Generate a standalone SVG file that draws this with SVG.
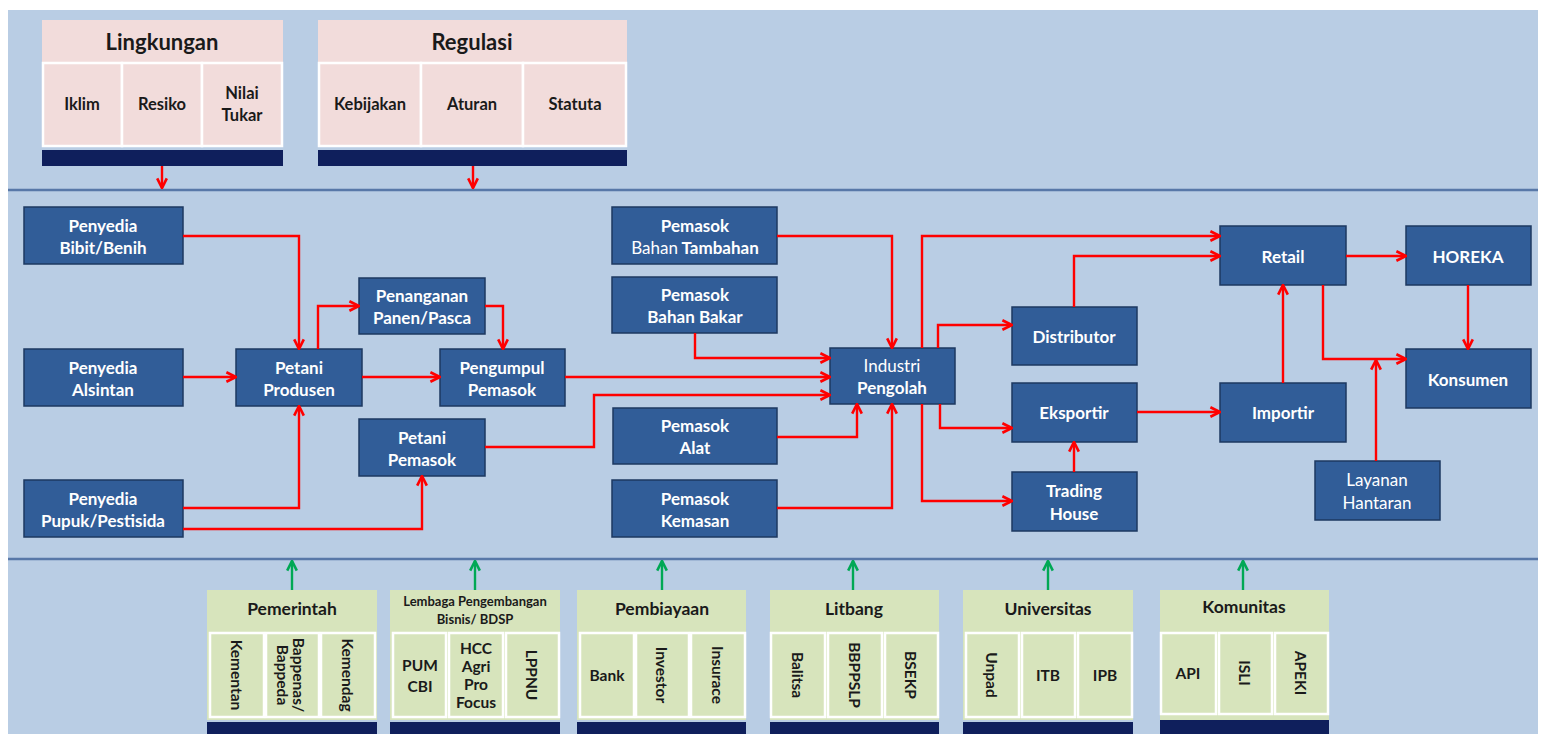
<svg xmlns="http://www.w3.org/2000/svg" width="1542" height="734" viewBox="0 0 1542 734">
<style>
.bg{fill:#b9cde4}
.sep{stroke:#5878a8;stroke-width:2.5}
.n{fill:#315d98;stroke:#1d3860;stroke-width:1.5}
.t{font-family:Lato,"Liberation Sans",sans-serif;font-size:17px;font-weight:bold;fill:#ffffff;text-anchor:middle;dominant-baseline:central}
.r{font-weight:normal}
.pk{fill:#f2dcdb}
.gr{fill:#d7e4bc}
.cell{stroke:#ffffff;stroke-width:2.5}
.bar{fill:#0f1f5c}
.h{font-family:Lato,"Liberation Sans",sans-serif;font-weight:bold;fill:#1a1a1a;text-anchor:middle;dominant-baseline:central}
.c{font-family:Lato,"Liberation Sans",sans-serif;font-weight:bold;fill:#1a1a1a;text-anchor:middle;dominant-baseline:central;font-size:15.5px}
.tc{font-size:16.5px}
.a{fill:none;stroke:#ff0000;stroke-width:2.4;marker-end:url(#ar)}
.g{fill:none;stroke:#00a855;stroke-width:2.4;marker-end:url(#ag)}
</style>
<defs>
<marker id="ar" viewBox="0 0 10 10" refX="9" refY="5" markerWidth="12" markerHeight="12" markerUnits="userSpaceOnUse" orient="auto"><path d="M1,1 L9,5 L1,9" fill="none" stroke="#ff0000" stroke-width="2.2"/></marker>
<marker id="ag" viewBox="0 0 10 10" refX="9" refY="5" markerWidth="12" markerHeight="12" markerUnits="userSpaceOnUse" orient="auto"><path d="M1,1 L9,5 L1,9" fill="none" stroke="#00a855" stroke-width="2.2"/></marker>
</defs>
<rect x="0" y="0" width="1542" height="734" fill="#ffffff"/>
<rect class="bg" x="8" y="10" width="1530" height="724"/>
<line class="sep" x1="8" y1="190" x2="1538" y2="190"/>
<line class="sep" x1="8" y1="559" x2="1538" y2="559"/>

<!-- Top panel -->
<g id="lingkungan">
<rect class="pk" x="42" y="20" width="241" height="127"/>
<text class="h" x="162" y="41" font-size="22">Lingkungan</text>
<rect class="pk cell" x="43" y="63" width="79" height="83"/>
<rect class="pk cell" x="122" y="63" width="80" height="83"/>
<rect class="pk cell" x="202" y="63" width="80" height="83"/>
<text class="c tc" x="82" y="104">Iklim</text>
<text class="c tc" x="162" y="104">Resiko</text>
<text class="c tc" x="242" y="93">Nilai</text>
<text class="c tc" x="242" y="115">Tukar</text>
<rect class="bar" x="42" y="150" width="241" height="16"/>
</g>
<g id="regulasi">
<rect class="pk" x="318" y="20" width="309" height="127"/>
<text class="h" x="472" y="41" font-size="22">Regulasi</text>
<rect class="pk cell" x="319" y="63" width="102" height="83"/>
<rect class="pk cell" x="421" y="63" width="102" height="83"/>
<rect class="pk cell" x="523" y="63" width="103" height="83"/>
<text class="c tc" x="370" y="104">Kebijakan</text>
<text class="c tc" x="472" y="104">Aturan</text>
<text class="c tc" x="575" y="104">Statuta</text>
<rect class="bar" x="318" y="150" width="309" height="16"/>
</g>

<!-- Middle nodes -->
<g id="bibit"><rect class="n" x="24" y="207" width="159" height="57"/><text class="t" x="103" y="225">Penyedia</text><text class="t" x="103" y="247">Bibit/Benih</text></g>
<g id="alsintan"><rect class="n" x="24" y="349" width="159" height="57"/><text class="t" x="103" y="367">Penyedia</text><text class="t" x="103" y="389">Alsintan</text></g>
<g id="pupuk"><rect class="n" x="24" y="480" width="159" height="57"/><text class="t" x="103" y="498">Penyedia</text><text class="t" x="103" y="520">Pupuk/Pestisida</text></g>
<g id="produsen"><rect class="n" x="236" y="349" width="126" height="57"/><text class="t" x="299" y="367">Petani</text><text class="t" x="299" y="389">Produsen</text></g>
<g id="penanganan"><rect class="n" x="359" y="278" width="126" height="56"/><text class="t" x="422" y="295">Penanganan</text><text class="t" x="422" y="317">Panen/Pasca</text></g>
<g id="pengumpul"><rect class="n" x="440" y="349" width="125" height="57"/><text class="t" x="502" y="367">Pengumpul</text><text class="t" x="502" y="389">Pemasok</text></g>
<g id="petanipemasok"><rect class="n" x="359" y="419" width="126" height="57"/><text class="t" x="422" y="437">Petani</text><text class="t" x="422" y="459">Pemasok</text></g>
<g id="tambahan"><rect class="n" x="612" y="207" width="165" height="57"/><text class="t" x="695" y="225">Pemasok</text><text class="t" x="695" y="247"><tspan class="r">Bahan</tspan> Tambahan</text></g>
<g id="bakar"><rect class="n" x="612" y="277" width="165" height="56"/><text class="t" x="695" y="294">Pemasok</text><text class="t" x="695" y="316">Bahan Bakar</text></g>
<g id="alat"><rect class="n" x="613" y="408" width="164" height="56"/><text class="t" x="695" y="425">Pemasok</text><text class="t" x="695" y="447">Alat</text></g>
<g id="kemasan"><rect class="n" x="612" y="480" width="165" height="57"/><text class="t" x="695" y="498">Pemasok</text><text class="t" x="695" y="520">Kemasan</text></g>
<g id="industri"><rect class="n" x="830" y="348" width="125" height="56"/><text class="t r" x="892" y="365">Industri</text><text class="t" x="892" y="387">Pengolah</text></g>
<g id="distributor"><rect class="n" x="1012" y="307" width="125" height="58"/><text class="t" x="1074" y="336">Distributor</text></g>
<g id="eksportir"><rect class="n" x="1012" y="383" width="125" height="59"/><text class="t" x="1074" y="412">Eksportir</text></g>
<g id="trading"><rect class="n" x="1012" y="472" width="125" height="59"/><text class="t" x="1074" y="490">Trading</text><text class="t" x="1074" y="513">House</text></g>
<g id="retail"><rect class="n" x="1220" y="226" width="126" height="59"/><text class="t" x="1283" y="256">Retail</text></g>
<g id="horeka"><rect class="n" x="1406" y="226" width="125" height="59"/><text class="t" x="1468" y="256">HOREKA</text></g>
<g id="konsumen"><rect class="n" x="1406" y="349" width="125" height="59"/><text class="t" x="1468" y="379">Konsumen</text></g>
<g id="importir"><rect class="n" x="1220" y="383" width="126" height="59"/><text class="t" x="1283" y="412">Importir</text></g>
<g id="layanan"><rect class="n" x="1315" y="461" width="125" height="59"/><text class="t r" x="1377" y="479">Layanan</text><text class="t r" x="1377" y="502">Hantaran</text></g>

<!-- Bottom panel -->
<g id="pemerintah">
<rect class="gr" x="207" y="590" width="170" height="130"/>
<text class="h" x="292" y="608" font-size="17.5">Pemerintah</text>
<rect class="gr cell" x="210" y="633" width="54" height="84"/>
<rect class="gr cell" x="266" y="633" width="53" height="84"/>
<rect class="gr cell" x="321" y="633" width="54" height="84"/>
<text class="c" transform="translate(237,675) rotate(90)">Kementan</text>
<text class="c" font-size="14" transform="translate(291,675) rotate(90)" y="-8">Bappenas/</text>
<text class="c" font-size="14" transform="translate(291,675) rotate(90)" y="8">Bappeda</text>
<text class="c" transform="translate(348,675) rotate(90)">Kemendag</text>
<rect class="bar" x="207" y="722" width="170" height="12"/>
</g>
<g id="lembaga">
<rect class="gr" x="390" y="590" width="170" height="130"/>
<text class="h" x="475" y="601" font-size="13">Lembaga Pengembangan</text>
<text class="h" x="475" y="619" font-size="13">Bisnis/ BDSP</text>
<rect class="gr cell" x="393" y="633" width="53" height="84"/>
<rect class="gr cell" x="449" y="633" width="54" height="84"/>
<rect class="gr cell" x="506" y="633" width="53" height="84"/>
<text class="c" x="420" y="665">PUM</text>
<text class="c" x="420" y="686">CBI</text>
<text class="c" x="476" y="648" font-size="12.5">HCC</text>
<text class="c" x="476" y="666" font-size="12.5">Agri</text>
<text class="c" x="476" y="684" font-size="12.5">Pro</text>
<text class="c" x="476" y="702" font-size="12.5">Focus</text>
<text class="c" transform="translate(532,675) rotate(90)">LPPNU</text>
<rect class="bar" x="390" y="722" width="170" height="12"/>
</g>
<g id="pembiayaan">
<rect class="gr" x="577" y="590" width="169" height="130"/>
<text class="h" x="662" y="608" font-size="17.5">Pembiayaan</text>
<rect class="gr cell" x="580" y="633" width="54" height="84"/>
<rect class="gr cell" x="636" y="633" width="53" height="84"/>
<rect class="gr cell" x="691" y="633" width="54" height="84"/>
<text class="c" x="607" y="675">Bank</text>
<text class="c" transform="translate(662,675) rotate(90)">Investor</text>
<text class="c" transform="translate(718,675) rotate(90)">Insurace</text>
<rect class="bar" x="577" y="722" width="169" height="12"/>
</g>
<g id="litbang">
<rect class="gr" x="770" y="590" width="169" height="130"/>
<text class="h" x="854" y="608" font-size="17.5">Litbang</text>
<rect class="gr cell" x="771" y="633" width="54" height="84"/>
<rect class="gr cell" x="828" y="633" width="54" height="84"/>
<rect class="gr cell" x="885" y="633" width="53" height="84"/>
<text class="c" transform="translate(798,675) rotate(90)">Balitsa</text>
<text class="c" transform="translate(855,675) rotate(90)">BBPPSLP</text>
<text class="c" transform="translate(911,675) rotate(90)">BSEKP</text>
<rect class="bar" x="770" y="722" width="169" height="12"/>
</g>
<g id="universitas">
<rect class="gr" x="963" y="590" width="170" height="130"/>
<text class="h" x="1048" y="608" font-size="17.5">Universitas</text>
<rect class="gr cell" x="966" y="633" width="53" height="84"/>
<rect class="gr cell" x="1022" y="633" width="53" height="84"/>
<rect class="gr cell" x="1078" y="633" width="54" height="84"/>
<text class="c" transform="translate(992,675) rotate(90)">Unpad</text>
<text class="c" x="1048" y="675">ITB</text>
<text class="c" x="1105" y="675">IPB</text>
<rect class="bar" x="963" y="722" width="170" height="12"/>
</g>
<g id="komunitas">
<rect class="gr" x="1160" y="590" width="169" height="130"/>
<text class="h" x="1244" y="606" font-size="17.5">Komunitas</text>
<rect class="gr cell" x="1161" y="633" width="55" height="81"/>
<rect class="gr cell" x="1219" y="633" width="53" height="81"/>
<rect class="gr cell" x="1275" y="633" width="53" height="81"/>
<text class="c" x="1188" y="673">API</text>
<text class="c" transform="translate(1245,673) rotate(90)">ISLI</text>
<text class="c" transform="translate(1301,673) rotate(90)">APEKI</text>
<rect class="bar" x="1160" y="720" width="169" height="14"/>
</g>

<!-- Connectors -->
<g id="connectors">
<path class="a" d="M162,166 V188"/>
<path class="a" d="M473,166 V188"/>
<path class="a" d="M183,236 H299 V349"/>
<path class="a" d="M183,377 H236"/>
<path class="a" d="M183,508 H299 V406"/>
<path class="a" d="M183,529 H422 V476"/>
<path class="a" d="M318,349 V306 H359"/>
<path class="a" d="M485,306 H503 V349"/>
<path class="a" d="M362,377 H440"/>
<path class="a" d="M565,377 H830"/>
<path class="a" d="M485,447 H594 V395 H830"/>
<path class="a" d="M777,236 H892 V348"/>
<path class="a" d="M695,333 V358 H830"/>
<path class="a" d="M777,437 H857 V404"/>
<path class="a" d="M777,508 H892 V404"/>
<path class="a" d="M922,348 V236 H1220"/>
<path class="a" d="M938,348 V325 H1012"/>
<path class="a" d="M940,404 V428 H1012"/>
<path class="a" d="M922,404 V501 H1012"/>
<path class="a" d="M1074,307 V256 H1220"/>
<path class="a" d="M1346,256 H1406"/>
<path class="a" d="M1468,285 V349"/>
<path class="a" d="M1323,285 V359 H1406"/>
<path class="a" d="M1376,461 V360"/>
<path class="a" d="M1283,383 V285"/>
<path class="a" d="M1137,412 H1220"/>
<path class="a" d="M1074,472 V442"/>
<path class="g" d="M292,590 V561"/>
<path class="g" d="M475,590 V561"/>
<path class="g" d="M662,590 V561"/>
<path class="g" d="M853,590 V561"/>
<path class="g" d="M1048,590 V561"/>
<path class="g" d="M1243,590 V561"/>
</g>
</svg>
